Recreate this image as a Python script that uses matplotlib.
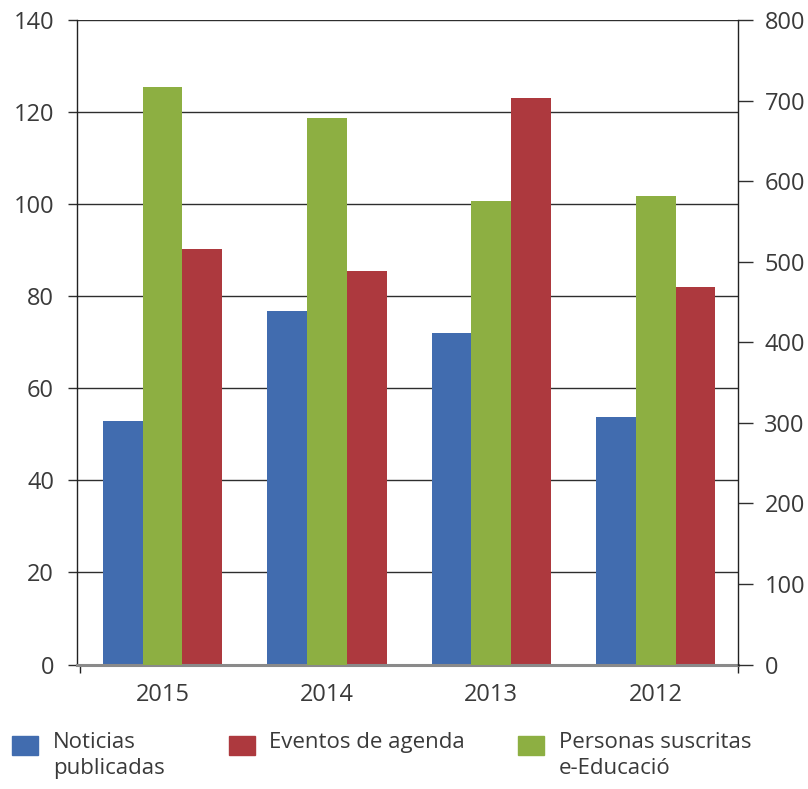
import numpy as np
import matplotlib.pyplot as plt
from matplotlib.patches import Rectangle

plt.rcParams['font.family'] = ['Open Sans', 'DejaVu Sans']

# datos
years = ['2015', '2014', '2013', '2012']
noticias = [53.0, 76.8, 72.0, 53.8]        # eje izquierdo
eventos = [90.2, 85.5, 123.0, 82.0]        # eje izquierdo
personas = [717, 678, 575, 582]            # eje derecho
legend_labels = ['Noticias\npublicadas', 'Eventos de agenda', 'Personas suscritas\ne-Educació']

c_blue = '#416CAF'
c_red = '#AD393E'
c_green = '#8DAF42'
txt = '#3a3a3a'
W, H = 808, 789

fig = plt.figure(figsize=(W / 100, H / 100), dpi=100)
ax = fig.add_axes([77 / W, 1 - 664.5 / H, (738 - 77) / W, (664.5 - 20) / H])
ax2 = ax.twinx()

x = np.arange(len(years))
bw = 0.242
ax.bar(x - bw, noticias, bw, color=c_blue, zorder=3)
ax.bar(x + bw, eventos, bw, color=c_red, zorder=3)
ax2.bar(x, personas, bw, color=c_green, zorder=3)

ax.set_xlim(-0.52, 3.48)
ax.set_ylim(0, 140)
ax2.set_ylim(0, 800)
ax.set_yticks(np.arange(0, 141, 20))
ax2.set_yticks(np.arange(0, 801, 100))

# rejilla
ax.set_axisbelow(True)
ax.yaxis.grid(True, color='#2e2e2e', lw=1.0)
ax.axhline(0, color='#8a8a8a', lw=2.2, zorder=4, clip_on=False)

for s in ['top', 'bottom']:
    ax.spines[s].set_visible(False)
    ax2.spines[s].set_visible(False)
ax.spines['left'].set_color('#222222')
ax.spines['left'].set_linewidth(1.0)
ax2.spines['left'].set_visible(False)
ax2.spines['right'].set_color('#222222')
ax2.spines['right'].set_linewidth(1.0)
ax.spines['right'].set_visible(False)

ax.tick_params(axis='y', length=6.5, width=1.0, color='#2e2e2e', pad=10,
               labelsize=17, labelcolor=txt)
ax2.tick_params(axis='y', length=11, width=1.0, color='#2e2e2e', pad=8,
                labelsize=17, labelcolor=txt)

ax.set_xticks(x)
ax.set_xticklabels(years)
ax.set_xticks([-0.5, 3.5], minor=True)
ax.tick_params(axis='x', which='major', length=0, pad=13, labelsize=17, labelcolor=txt)
ax.tick_params(axis='x', which='minor', length=6, width=1.0, color='#222222')

# leyenda manual
colors = [c_blue, c_red, c_green]
sq_x = [12, 229, 518]
tx_x = [53, 269, 559]
for lab, col, sx, tx in zip(legend_labels, colors, sq_x, tx_x):
    fig.add_artist(Rectangle((sx / W, 1 - 755 / H), 26 / W, 19 / H,
                             transform=fig.transFigure, color=col))
    fig.text(tx / W, 1 - 732 / H, lab, fontsize=16, color=txt,
             va='top', ha='left', linespacing=1.32)

fig.savefig('out.png', dpi=100)
